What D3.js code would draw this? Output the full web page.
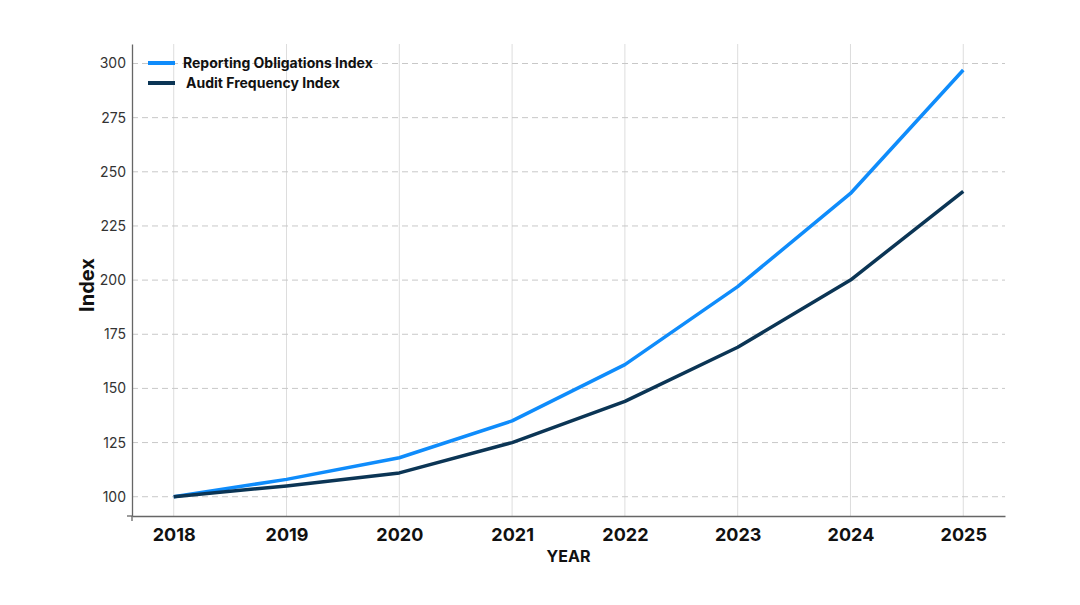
<!DOCTYPE html>
<html>
<head>
<meta charset="utf-8">
<script src="https://cdn.jsdelivr.net/npm/d3@7"></script>
<style>
  body { margin: 0; background: #fff; font-family: Inter, "Noto Sans", sans-serif; }
</style>
</head>
<body>
<svg id="chart" width="1080" height="605"></svg>
<script>
// chart data
const years = [2018, 2019, 2020, 2021, 2022, 2023, 2024, 2025];
const reporting = [100, 108, 118, 135, 161, 197, 240, 297];
const audit = [100, 105, 111, 125, 144, 169, 200, 241];
const yTicks = [100, 125, 150, 175, 200, 225, 250, 275, 300];
const seriesNames = ['Reporting Obligations Index', 'Audit Frequency Index'];
const seriesColors = ['#0f8cfb', '#0b3555'];

const svg = d3.select('#chart');
const plotLeft = 132, plotRight = 1005, plotTop = 44, plotBottom = 516;

// scales
const x = d3.scalePoint().domain(years).range([plotLeft, plotRight]).padding(0.37);
const y = d3.scaleLinear().domain([91.1, 309]).range([plotBottom, plotTop]);

// vertical grid (solid)
svg.append('g').selectAll('line')
  .data(years).enter().append('line')
  .attr('x1', d => x(d)).attr('x2', d => x(d))
  .attr('y1', plotTop).attr('y2', plotBottom)
  .attr('stroke', '#dddddd').attr('stroke-width', 1);

// horizontal grid (dashed)
svg.append('g').selectAll('line')
  .data(yTicks).enter().append('line')
  .attr('x1', plotLeft).attr('x2', plotRight)
  .attr('y1', d => y(d)).attr('y2', d => y(d))
  .attr('stroke', '#c8c8c8').attr('stroke-width', 1)
  .attr('stroke-dasharray', '6,4');

// axes
const yAxis = svg.append('g')
  .attr('transform', `translate(${plotLeft},0)`)
  .call(d3.axisLeft(y).tickValues(yTicks).tickSize(0).tickPadding(6));
yAxis.select('.domain').attr('stroke', '#666').attr('stroke-width', 1.3);
yAxis.selectAll('text')
  .attr('font-family', 'Inter, sans-serif')
  .attr('font-size', 14).attr('fill', '#333');

const xAxis = svg.append('g')
  .attr('transform', `translate(0,${plotBottom})`)
  .call(d3.axisBottom(x).tickSize(0).tickPadding(12).tickSizeOuter(0));
xAxis.select('.domain').attr('stroke', '#666').attr('stroke-width', 1.3);
xAxis.selectAll('text')
  .attr('font-family', 'Inter, sans-serif')
  .attr('font-size', 18).attr('font-weight', 'bold').attr('fill', '#111');

// small corner stubs like the original
svg.append('line').attr('x1', plotLeft - 5).attr('x2', plotLeft).attr('y1', plotBottom).attr('y2', plotBottom)
  .attr('stroke', '#666').attr('stroke-width', 1.3);
svg.append('line').attr('x1', plotLeft).attr('x2', plotLeft).attr('y1', plotBottom).attr('y2', plotBottom + 5)
  .attr('stroke', '#666').attr('stroke-width', 1.3);

// axis titles
svg.append('text')
  .attr('x', (plotLeft + plotRight) / 2).attr('y', 562)
  .attr('text-anchor', 'middle')
  .attr('font-family', 'Inter, sans-serif')
  .attr('font-size', 16).attr('font-weight', 'bold').attr('fill', '#111')
  .text('YEAR');

svg.append('text')
  .attr('transform', 'translate(94,285) rotate(-90)')
  .attr('text-anchor', 'middle')
  .attr('font-family', 'Inter, sans-serif')
  .attr('font-size', 20).attr('font-weight', 'bold').attr('fill', '#111')
  .text('Index');

// lines
const line = d3.line().x((d, i) => x(years[i])).y(d => y(d));
[reporting, audit].forEach((vals, k) => {
  svg.append('path')
    .datum(vals)
    .attr('fill', 'none')
    .attr('stroke', seriesColors[k])
    .attr('stroke-width', 3.5)
    .attr('stroke-linejoin', 'round')
    .attr('d', line);
});

// legend
const legend = svg.append('g');
seriesNames.forEach((name, k) => {
  const ly = 63 + k * 20;
  legend.append('line')
    .attr('x1', 148).attr('x2', 175).attr('y1', ly).attr('y2', ly)
    .attr('stroke', seriesColors[k]).attr('stroke-width', 4);
  legend.append('text')
    .attr('x', 183 + k * 3).attr('y', ly)
    .attr('dy', '0.35em')
    .attr('font-family', 'Inter, sans-serif')
    .attr('font-size', 14).attr('font-weight', 'bold').attr('fill', '#111')
    .text(name);
});
</script>
</body>
</html>
